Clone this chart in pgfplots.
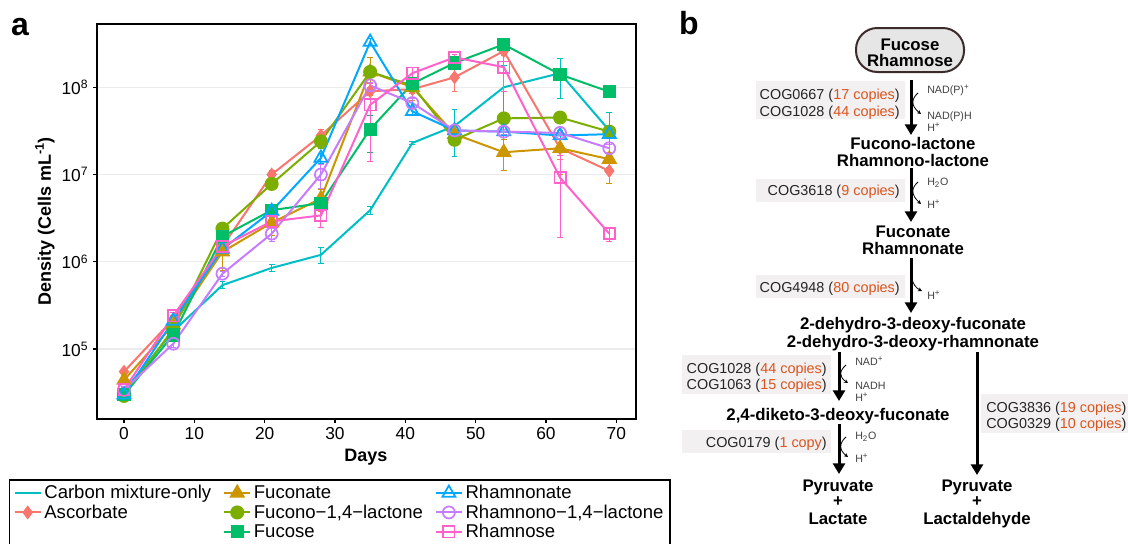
\documentclass[border=0pt]{standalone}
\usepackage{pgfplots}
\pgfplotsset{compat=1.18}
\usetikzlibrary{arrows.meta}
\usepackage{fontspec}
\setmainfont{Liberation Sans}

\definecolor{cCarb}{HTML}{00BFC4}
\definecolor{cAsc}{HTML}{F8766D}
\definecolor{cFuc}{HTML}{CD9600}
\definecolor{cFlac}{HTML}{7CAE00}
\definecolor{cFucose}{HTML}{00BE67}
\definecolor{cRhn}{HTML}{00A9FF}
\definecolor{cRlac}{HTML}{C77CFF}
\definecolor{cRha}{HTML}{FF61CC}
\definecolor{cop}{HTML}{D9541E}
\definecolor{boxg}{HTML}{F2F0F0}
\definecolor{pill}{HTML}{E6E6E6}
\definecolor{pilledge}{HTML}{3B2B2B}

\pgfplotsset{
  s/.style={color=#1, line width=1.5pt, mark options={solid, line width=1.3pt}},
  ebar/.style={error bars/.cd, y dir=both, y explicit,
    error bar style={line width=0.7pt},
    error mark options={rotate=90, mark size=2.2pt, line width=0.7pt}},
  mAsc/.style={mark=diamond*, mark size=4.2pt},
  mFuc/.style={mark=triangle*, mark size=5.6pt},
  mFlac/.style={mark=*, mark size=4.6pt},
  mFucose/.style={mark=square*, mark size=4.3pt},
  mRhn/.style={mark=triangle, mark size=5.6pt},
  mRlac/.style={mark=o, mark size=4.5pt},
  mRha/.style={mark=square, mark size=4.2pt},
}

\tikzset{
  cmp/.style={anchor=base, inner sep=0pt, font=\fontsize{12.6}{14}\selectfont\bfseries},
  cog/.style={inner sep=0pt, font=\fontsize{10.8}{13}\selectfont, text=black!85},
  cof/.style={anchor=base west, inner sep=0pt, font=\fontsize{8}{9}\selectfont, text=black!75},
  mainarr/.style={line width=2.25pt, -{Triangle[length=8pt,width=9pt]}},
  sidearr/.style={line width=0.6pt, -{Stealth[length=3pt,width=3pt]}},
}

\begin{document}
\begin{tikzpicture}
\begin{axis}[
  at={(72.75pt,-314.25pt)}, anchor=south west,
  scale only axis, width=404.25pt, height=296.25pt,
  ymode=log,
  xmin=-3.84, xmax=72.8, ymin=1.578e4, ymax=5.31e8,
  xtick={0,10,...,70},
  ytick={1e5,1e6,1e7,1e8},
  yticklabels={10\textsuperscript{5},10\textsuperscript{6},10\textsuperscript{7},10\textsuperscript{8}},
  yminorticks=false,
  /pgf/number format/assume math mode=true,
  tick align=outside, tick pos=left,
  major tick length=3pt,
  tick style={black, line width=0.8pt},
  axis line style={line width=1.1pt},
  ymajorgrids, grid style={color=black!8, line width=0.8pt},
  ticklabel style={font=\fontsize{13}{15}\selectfont},
  xlabel={Days},
  ylabel={Density (Cells mL\textsuperscript{-1})},
  xlabel style={at={(axis description cs:0.499,-0.096)}, anchor=center, font=\fontsize{13.5}{16}\selectfont\bfseries},
  ylabel style={at={(axis description cs:-0.0965,0.5)}, anchor=center, font=\fontsize{13.5}{16}\selectfont\bfseries},
  legend columns=3,
  legend cell align=left,
  legend image code/.code={\draw[mark repeat=2,mark phase=2,#1] plot coordinates {(0pt,0pt) (9.75pt,0pt) (19.5pt,0pt)};},
  legend style={at={(-0.1633,-0.1525)}, anchor=north west, draw=black, line width=1.1pt,
    font=\fontsize{13.9}{16}\selectfont, inner xsep=3pt, inner ysep=2pt, row sep=-1pt,
    /tikz/every even column/.append style={column sep=7pt}},
]
\addplot[s=cCarb, forget plot, ebar] table[x=d, y=v, y error=e] {
d v e
0 3.3e4 0.3e4
7 1.6e5 0.15e5
14 5.4e5 0.5e5
21 8.5e5 0.8e5
28 1.2e6 0.25e6
35 3.9e6 0.4e6
41 2.3e7 0.1e7
47 3.6e7 2.0e7
54 1.0e8 0.8e8
62 1.45e8 0.7e8
69 3.2e7 2.0e7
};
\addplot[s=cAsc, mAsc, forget plot, ebar] table[x=d, y=v, y error=e] {
d v e
0 5.5e4 0.4e4
7 2.2e5 0.2e5
14 1.5e6 0.2e6
21 1.0e7 0.1e7
28 2.8e7 0.5e7
35 9.0e7 1.0e7
41 9.5e7 1.0e7
47 1.3e8 0.4e8
54 2.6e8 0.3e8
62 2.0e7 0.5e7
69 1.1e7 0.3e7
};
\addplot[s=cFuc, mFuc, forget plot, ebar] table[x=d, y=v, y error=e] {
d v e
0 4.4e4 0.4e4
7 1.9e5 0.2e5
14 1.3e6 0.5e6
21 2.8e6 0.8e6
28 5.3e6 1.5e6
35 1.5e8 0.7e8
41 1.0e8 0.3e8
47 2.9e7 0.3e7
54 1.8e7 0.7e7
62 2.0e7 1.0e7
69 1.5e7 0.7e7
};
\addplot[s=cFlac, mFlac, forget plot, ebar] table[x=d, y=v, y error=e] {
d v e
0 2.9e4 0.2e4
7 1.7e5 0.2e5
14 2.4e6 0.3e6
21 7.8e6 1.0e6
28 2.4e7 0.4e7
35 1.5e8 0.2e8
41 1.05e8 0.15e8
47 2.5e7 0.3e7
54 4.4e7 0.4e7
62 4.5e7 0.3e7
69 3.1e7 0.4e7
};
\addplot[s=cFucose, mFucose, forget plot, ebar] table[x=d, y=v, y error=e] {
d v e
0 3.0e4 0.2e4
7 1.45e5 0.1e5
14 1.95e6 0.2e6
21 3.9e6 0.3e6
28 4.7e6 0.6e6
35 3.3e7 1.5e7
41 1.1e8 0.1e8
47 1.9e8 0.2e8
54 3.1e8 0.3e8
62 1.4e8 0.2e8
69 8.9e7 1.0e7
};
\addplot[s=cRhn, mRhn, forget plot, ebar] table[x=d, y=v, y error=e] {
d v e
0 3.0e4 0.2e4
7 2.1e5 0.2e5
14 1.4e6 0.2e6
21 3.8e6 0.4e6
28 1.55e7 0.2e7
35 3.3e8 0.3e8
41 5.3e7 0.6e7
47 3.2e7 0.3e7
54 3.1e7 0.2e7
62 2.8e7 0.2e7
69 2.9e7 0.2e7
};
\addplot[s=cRlac, mRlac, forget plot, ebar] table[x=d, y=v, y error=e] {
d v e
0 3.4e4 0.3e4
7 1.15e5 0.1e5
14 7.3e5 0.5e5
21 2.1e6 0.4e6
28 1.0e7 0.3e7
35 1.05e8 0.1e8
41 6.6e7 0.8e7
47 3.2e7 0.3e7
54 3.1e7 0.2e7
62 3.0e7 0.2e7
69 2.0e7 0.2e7
};
\addplot[s=cRha, mRha, forget plot, ebar] table[x=d, y=v, y error=e] {
d v e
0 3.4e4 0.2e4
7 2.4e5 0.2e5
14 1.5e6 0.2e6
21 2.9e6 0.3e6
28 3.4e6 0.9e6
35 6.3e7 4.9e7
41 1.45e8 0.25e8
47 2.2e8 0.2e8
54 1.7e8 0.8e8
62 9.2e6 7.3e6
69 2.1e6 0.4e6
};
% legend, row by row (ggplot fills it column by column)
\addlegendimage{s=cCarb}\addlegendentry{Carbon mixture-only}
\addlegendimage{s=cFuc, mFuc}\addlegendentry{Fuconate}
\addlegendimage{s=cRhn, mRhn}\addlegendentry{Rhamnonate}
\addlegendimage{s=cAsc, mAsc}\addlegendentry{Ascorbate}
\addlegendimage{s=cFlac, mFlac}\addlegendentry{Fucono−1,4−lactone}
\addlegendimage{s=cRlac, mRlac}\addlegendentry{Rhamnono−1,4−lactone}
\addlegendimage{empty legend}\addlegendentry{}
\addlegendimage{s=cFucose, mFucose}\addlegendentry{Fucose}
\addlegendimage{s=cRha, mRha}\addlegendentry{Rhamnose}
\end{axis}

\begin{scope}[x=0.75pt, y=-0.75pt]
% panel letters
\node[anchor=base, inner sep=0pt, font=\fontsize{24}{28}\selectfont\bfseries] at (20,35) {a};
\node[anchor=base, inner sep=0pt, font=\fontsize{24}{28}\selectfont\bfseries] at (689,34) {b};

% grey boxes behind the enzyme labels
\fill[boxg] (756,81) rectangle (905,119);
\fill[boxg] (756,179) rectangle (905,202);
\fill[boxg] (756,275) rectangle (905,298);
\fill[boxg] (682,355) rectangle (831,394);
\fill[boxg] (682,430) rectangle (831,453);
\fill[boxg] (981,394) rectangle (1130,433);

% starting sugars
\draw[fill=pill, draw=pilledge, line width=1.5pt, rounded corners=16pt] (856,28) rectangle (964,72);
\node[cmp] at (910,50) {Fucose};
\node[cmp] at (910,66) {Rhamnose};

% step 1
\draw[mainarr] (911,80) -- (911,135);
\draw[sidearr] (918,93) .. controls (911,99) and (911,106) .. (921,114);
\node[cog, anchor=base east] at (900,99.6) {COG0667 (\textcolor{cop}{17 copies})};
\node[cog, anchor=base east] at (900,116.3) {COG1028 (\textcolor{cop}{44 copies})};
\node[cof] at (927,93.7) {NAD(P)\textsuperscript{+}};
\node[cof] at (927,119.7) {NAD(P)H};
\node[cof] at (927,131.7) {H\textsuperscript{+}};
\node[cmp] at (913,149) {Fucono-lactone};
\node[cmp] at (913,166) {Rhamnono-lactone};

% step 2
\draw[mainarr] (911,168) -- (911,222);
\draw[sidearr] (918,182) .. controls (911,188) and (911,195) .. (921,204);
\node[cog, anchor=base east] at (900,195.6) {COG3618 (\textcolor{cop}{9 copies})};
\node[cof] at (927,185.4) {H\textsubscript{2}O};
\node[cof] at (927,208.7) {H\textsuperscript{+}};
\node[cmp] at (913,237) {Fuconate};
\node[cmp] at (913,254) {Rhamnonate};

% step 3
\draw[mainarr] (911,258) -- (911,313);
\draw[sidearr] (912,279) .. controls (913,284) and (916,288) .. (922,291);
\node[cog, anchor=base east] at (900,292.6) {COG4948 (\textcolor{cop}{80 copies})};
\node[cof] at (927,299.4) {H\textsuperscript{+}};
\node[cmp] at (913,329) {2-dehydro-3-deoxy-fuconate};
\node[cmp] at (913,347) {2-dehydro-3-deoxy-rhamnonate};

% left branch, step 4
\draw[mainarr] (839,352) -- (839,401);
\draw[sidearr] (846,365) .. controls (839,371) and (839,377) .. (848,383);
\node[cog, anchor=base east] at (827,373) {COG1028 (\textcolor{cop}{44 copies})};
\node[cog, anchor=base east] at (827,389.6) {COG1063 (\textcolor{cop}{15 copies})};
\node[cof] at (855,365) {NAD\textsuperscript{+}};
\node[cof] at (855,389.4) {NADH};
\node[cof] at (855,401) {H\textsuperscript{+}};
\node[cmp] at (838,420) {2,4-diketo-3-deoxy-fuconate};

% left branch, step 5
\draw[mainarr] (839,424) -- (839,474);
\draw[sidearr] (846,437) .. controls (839,443) and (839,450) .. (848,457);
\node[cog, anchor=base east] at (827,447) {COG0179 (\textcolor{cop}{1 copy})};
\node[cof] at (855,439.4) {H\textsubscript{2}O};
\node[cof] at (855,462.7) {H\textsuperscript{+}};
\node[cmp] at (838,491) {Pyruvate};
\node[cmp] at (838,506) {+};
\node[cmp] at (838,524) {Lactate};

% right branch
\draw[mainarr] (977,352) -- (977,475);
\node[cog, anchor=base west] at (986,412) {COG3836 (\textcolor{cop}{19 copies})};
\node[cog, anchor=base west] at (986,428.6) {COG0329 (\textcolor{cop}{10 copies})};
\node[cmp] at (977,491) {Pyruvate};
\node[cmp] at (977,506) {+};
\node[cmp] at (977,524) {Lactaldehyde};
\end{scope}

\pgfresetboundingbox
\useasboundingbox (0,0) rectangle (846pt,-407.25pt);
\end{tikzpicture}
\end{document}
